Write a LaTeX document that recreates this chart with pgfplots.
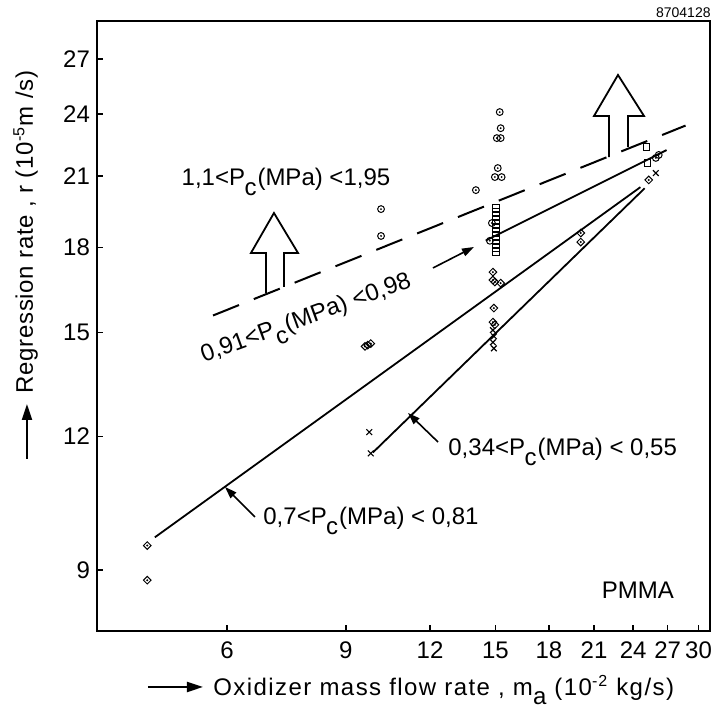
\documentclass[border=0pt]{standalone}
\usepackage{pgfplots}
\pgfplotsset{compat=1.18}
\usepackage{fontspec}
\setmainfont{Liberation Sans}
\usetikzlibrary{arrows.meta}

% circle with centre dot, diamond with centre dot
\pgfdeclareplotmark{odot}{%
  \pgfpathcircle{\pgfpointorigin}{\pgfplotmarksize}\pgfusepathqstroke
  \pgfpathcircle{\pgfpointorigin}{0.3\pgfplotmarksize}\pgfusepathqfill}
\pgfdeclareplotmark{ddot}{%
  \pgfpathmoveto{\pgfqpoint{0pt}{\pgfplotmarksize}}%
  \pgfpathlineto{\pgfqpoint{\pgfplotmarksize}{0pt}}%
  \pgfpathlineto{\pgfqpoint{0pt}{-\pgfplotmarksize}}%
  \pgfpathlineto{\pgfqpoint{-\pgfplotmarksize}{0pt}}%
  \pgfpathclose\pgfusepathqstroke
  \pgfpathcircle{\pgfpointorigin}{0.3\pgfplotmarksize}\pgfusepathqfill}

\newcommand{\Pc}{P\kern-0.3pt\raisebox{-0.75ex}{c}\kern0.5pt}

\begin{document}
\begin{tikzpicture}[font=\fontsize{12}{14}\selectfont]
\begin{axis}[
    scale only axis, width=306.5pt, height=305pt,
    xmode=log, ymode=log,
    xmin=3.85, xmax=31.2, ymin=7.9, ymax=29.3,
    xtick={6,9,12,15,18,21,24,27,30},
    xticklabels={6,9,12,15,18,21,24,27,30},
    ytick={9,12,15,18,21,24,27},
    yticklabels={9,12,15,18,21,24,27},
    xminorticks=false, yminorticks=false,
    xtick pos=left, ytick pos=left,
    tick align=inside, major tick length=3pt,
    tick style={black, line width=0.8pt},
    axis line style={line width=1pt},
    tick label style={font=\fontsize{12}{14}\selectfont},
    xticklabel style={yshift=-2pt},
    clip=false,
]
% keep the page the size of the reference
\path (rel axis cs:-0.1582,1.0344) rectangle (rel axis cs:1.0212,-0.1262);

% correlation lines
\addplot[black, line width=1pt, dash pattern=on 14pt off 8pt] coordinates {(5.72,15.56) (28.7,23.4)};
\addplot[black, line width=0.9pt] coordinates {(14.51,18.28) (26.9,22.2)};
\addplot[black, line width=0.9pt] coordinates {(4.69,9.66) (24.6,20.5)};
\addplot[black, line width=0.9pt] coordinates {(9.87,11.59) (24.96,20.45)};

% 1.1 < Pc < 1.95
\addplot[only marks, mark=odot, mark size=1.7pt, mark options={black, line width=0.5pt}] coordinates {
    (10.15,19.56) (10.15,18.46) (15.22,24.09) (15.27,23.27) (15.07,22.78) (15.27,22.78)
    (15.12,21.36) (14.97,20.95) (15.32,20.95) (14.03,20.37) (14.82,18.98) (14.72,18.27)
    (25.93,21.83) (26.19,21.97) };
% 0.91 < Pc < 0.98
\addplot[only marks, mark=square, mark size=1.6pt, mark options={black, line width=0.5pt}] coordinates {
    (15.02,19.60) (15.02,19.43) (15.02,19.27) (15.02,19.10) (15.02,18.94) (15.02,18.78)
    (15.02,18.62) (15.02,18.46) (15.02,18.30) (15.02,18.15) (15.02,17.99) (15.02,17.84)
    (25.14,22.35) (25.23,21.59) };
% 0.7 < Pc < 0.81
\addplot[only marks, mark=ddot, mark size=1.9pt, mark options={black, line width=0.5pt}] coordinates {
    (4.57,9.49) (4.57,8.81) (9.61,14.56) (9.70,14.60) (9.80,14.65)
    (14.87,17.08) (14.87,16.79) (14.97,16.72) (15.27,16.68) (14.92,15.81) (14.87,15.34) (14.97,15.25)
    (20.07,18.58) (20.07,18.22) (25.31,20.82) };
% 0.34 < Pc < 0.55
\addplot[only marks, mark=x, mark size=2pt, mark options={black, line width=0.6pt}] coordinates {
    (9.75,12.11) (9.80,11.57) (14.87,15.08) (14.92,14.88) (14.87,14.69) (14.92,14.50) (25.93,21.13) };

% hollow block arrows
\draw[line width=0.9pt] (rel axis cs:0.2757,0.5541) -- (rel axis cs:0.2757,0.6197) -- (rel axis cs:0.2512,0.6197)
    -- (rel axis cs:0.2887,0.6852) -- (rel axis cs:0.3279,0.6197) -- (rel axis cs:0.3051,0.6197) -- (rel axis cs:0.3051,0.5639);
\draw[line width=0.9pt] (rel axis cs:0.8352,0.7770) -- (rel axis cs:0.8352,0.8443) -- (rel axis cs:0.8108,0.8443)
    -- (rel axis cs:0.8499,0.9115) -- (rel axis cs:0.8923,0.8443) -- (rel axis cs:0.8662,0.8443) -- (rel axis cs:0.8662,0.7934);

% labels on the lines
\node at (rel axis cs:0.3083,0.7361) {1,1<\Pc(MPa) <1,95};
\node[rotate=20] at (rel axis cs:0.3426,0.5082) {0,91<\Pc(MPa) <0,98};
\draw[line width=0.8pt, -{Triangle[length=6pt,width=4pt]}] (rel axis cs:0.5481,0.5951) -- (rel axis cs:0.6150,0.6295);
\node[anchor=west, inner sep=0pt] at (rel axis cs:0.2708,0.1803) {0,7<\Pc(MPa) < 0,81};
\draw[line width=0.8pt, -{Triangle[length=6pt,width=4pt]}] (rel axis cs:0.2577,0.1869) -- (rel axis cs:0.2088,0.2361);
\node[anchor=west, inner sep=0pt] at (rel axis cs:0.5726,0.2934) {0,34<\Pc(MPa) < 0,55};
\draw[line width=0.8pt, -{Triangle[length=6pt,width=4pt]}] (rel axis cs:0.5563,0.3098) -- (rel axis cs:0.5073,0.3574);
\node at (rel axis cs:0.8825,0.0672) {PMMA};
\node[anchor=east, inner sep=0pt, font=\fontsize{7}{8}\selectfont] at (rel axis cs:1.0016,1.0131) {8704128};

% axis titles with their arrows
\node[anchor=base west, inner sep=0pt] at (rel axis cs:0.1892,-0.1057)
    {\addfontfeatures{LetterSpace=6}Oxidizer mass flow rate , m\raisebox{-0.75ex}{a} (10\textsuperscript{-2} kg/s)};
\draw[line width=1pt, -{Triangle[length=8pt,width=5pt]}] (rel axis cs:0.0832,-0.0918) -- (rel axis cs:0.1729,-0.0918);
\node[rotate=90, anchor=base west, inner sep=0pt] at (rel axis cs:-0.1044,0.3885)
    {\addfontfeatures{LetterSpace=3}Regression rate , r (10\textsuperscript{-5}m /s)};
\draw[line width=1pt, -{Triangle[length=8pt,width=5pt]}] (rel axis cs:-0.1142,0.2820) -- (rel axis cs:-0.1142,0.3721);
\end{axis}
\end{tikzpicture}
\end{document}
